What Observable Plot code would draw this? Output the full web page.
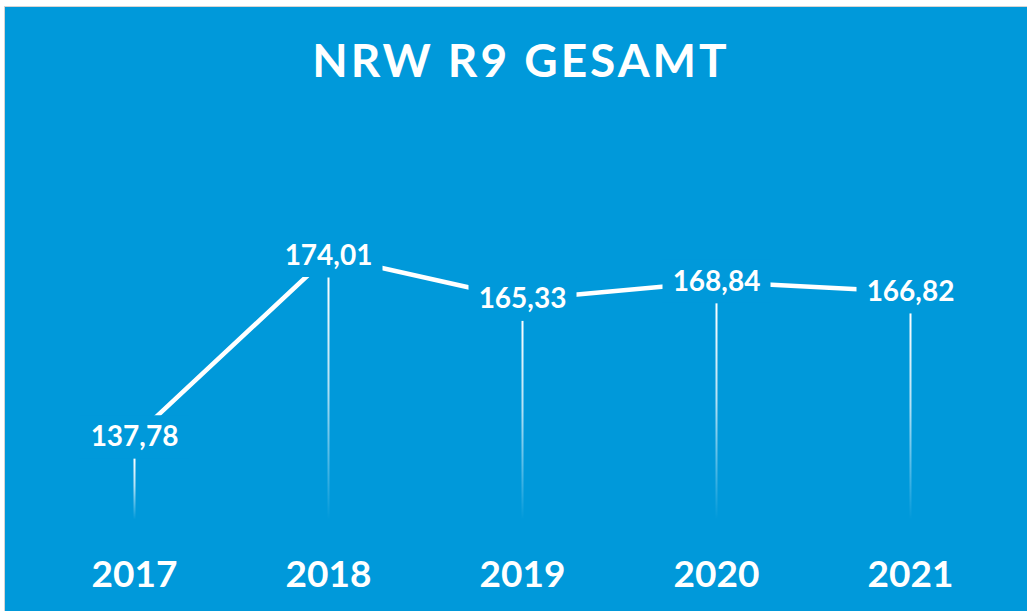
<!DOCTYPE html>
<html>
<head>
<meta charset="utf-8">
<script src="https://cdn.jsdelivr.net/npm/d3@7"></script>
<script src="https://cdn.jsdelivr.net/npm/@observablehq/plot@0.6"></script>
<style>
  html, body { margin: 0; padding: 0; background: #ffffff; overflow: hidden; }
  #frame {
    position: absolute; left: 4px; top: 6px; width: 1022px; height: 604px;
    background: #0099da; border-left: 1px solid #d4d4d4; border-top: 1px solid #d4d4d4;
  }
  #title {
    height: 110px; box-sizing: border-box; padding-top: 30px; padding-left: 10px;
    font-family: Lato, "Open Sans", sans-serif; font-weight: 700; font-size: 46px;
    line-height: 46px; letter-spacing: 3px; color: #ffffff; text-align: center;
  }
  #chart svg { display: block; }
</style>
</head>
<body>
<div id="frame">
  <div id="title">NRW R9 GESAMT</div>
  <div id="chart"></div>
</div>
<script>
const years = [2017, 2018, 2019, 2020, 2021];
const values = [137.78, 174.01, 165.33, 168.84, 166.82];
const yBase = 120;
const bg = "#0099da";

const data = years.map((year, i) => ({year, value: values[i]}));
const fmt = v => v.toFixed(2).replace(".", ",");

const labelBox = {draw(ctx) { ctx.rect(-54, -22, 108, 43); }};

const marks = [
  Plot.line(data, {x: "year", y: "value", stroke: "white", strokeWidth: 4.5, strokeLinecap: "butt"}),
  Plot.dot(data, {x: "year", y: "value", symbol: labelBox, fill: bg, stroke: "none", r: 10}),
  Plot.text(data, {x: "year", y: "value", text: d => fmt(d.value), fill: "white",
    fontSize: 28, fontWeight: 700, fontFamily: "Lato, 'Open Sans', sans-serif"}),
  ...data.map((d, i) => Plot.ruleX([d], {x: "year", y1: "value", y2: () => yBase,
    stroke: `url(#fade${i})`, strokeWidth: 2, insetTop: 22, insetBottom: 6})),
  Plot.text(data, {x: "year", y: () => yBase, dy: 49.5, text: d => String(d.year), fill: "white",
    fontSize: 37, fontWeight: 700, fontFamily: "Lato, 'Open Sans', sans-serif"})
];

const plot = Plot.plot({
  width: 1022,
  height: 494,
  margin: 0,
  style: {background: "transparent", overflow: "visible"},
  x: {type: "point", domain: years, range: [129, 905], padding: 0, axis: null},
  y: {domain: [yBase, 180], range: [408.55, 108.55], axis: null},
  marks
});

const ys = plot.scale("y");
const svg = d3.select(plot);
const defs = svg.insert("defs", ":first-child");
data.forEach((d, i) => {
  const g = defs.append("linearGradient")
    .attr("id", `fade${i}`)
    .attr("gradientUnits", "userSpaceOnUse")
    .attr("x1", 0).attr("x2", 0)
    .attr("y1", ys.apply(d.value) + 22)
    .attr("y2", ys.apply(yBase) - 6);
  g.append("stop").attr("offset", 0).attr("stop-color", "white").attr("stop-opacity", 1);
  g.append("stop").attr("offset", 0.45).attr("stop-color", "white").attr("stop-opacity", 0.7);
  g.append("stop").attr("offset", 1).attr("stop-color", "white").attr("stop-opacity", 0);
});

document.getElementById("chart").appendChild(plot);
</script>
</body>
</html>
